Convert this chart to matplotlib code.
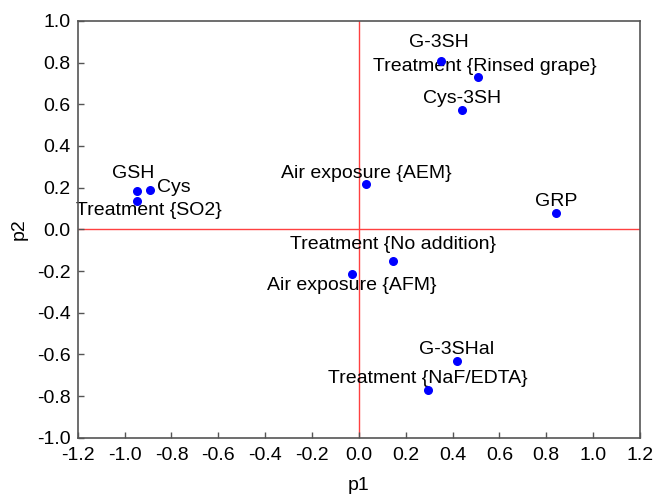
import matplotlib.pyplot as plt

plt.rcParams['font.family'] = ['Liberation Sans', 'DejaVu Sans']

labels = ["G-3SH", "Treatment {Rinsed grape}", "Cys-3SH", "GSH", "Cys",
          "Treatment {SO2}", "Air exposure {AEM}", "GRP", "Treatment {No addition}",
          "Air exposure {AFM}", "G-3SHal", "Treatment {NaF/EDTA}"]
p1 = [0.351, 0.509, 0.441, -0.948, -0.891, -0.948, 0.031, 0.841, 0.146, -0.029, 0.417, 0.294]
p2 = [0.810, 0.733, 0.573, 0.186, 0.191, 0.137, 0.217, 0.078, -0.151, -0.215, -0.631, -0.770]

# label offsets in pixels (dx, dy up), alignment
offs = [(-2, 18, 'center'), (7, 10, 'center'), (0, 11, 'center'), (-4, 17, 'center'),
        (7, 2, 'left'), (12, -10, 'center'), (0, 11, 'center'), (0, 12, 'center'),
        (0, 16, 'center'), (0, -11, 'center'), (0, 11, 'center'), (0, 11, 'center')]

fig = plt.figure(figsize=(6.56, 4.95), dpi=100)
ax = fig.add_axes([0.1185, 0.1158, 0.8571, 0.8418])

ax.axhline(0, color='#ff4040', lw=1.0, zorder=1)
ax.axvline(0, color='#ff4040', lw=1.0, zorder=1)
ax.scatter(p1, p2, s=30, color='blue', zorder=3)

for lab, x, y, (dx, dy, ha) in zip(labels, p1, p2, offs):
    ax.annotate(lab, (x, y), xytext=(dx * 0.72, dy * 0.72), textcoords='offset points',
                ha=ha, va='center', fontsize=14, zorder=2)

ax.set_xlim(-1.2, 1.2)
ax.set_ylim(-1.0, 1.0)
ax.set_xticks([round(-1.2 + 0.2 * i, 1) for i in range(13)])
ax.set_yticks([round(-1.0 + 0.2 * i, 1) for i in range(11)])
ax.xaxis.set_major_formatter(plt.FuncFormatter(lambda v, p: "%.1f" % v))
ax.yaxis.set_major_formatter(plt.FuncFormatter(lambda v, p: "%.1f" % v))
ax.tick_params(direction='in', length=4, width=1, colors='#555555', labelcolor='black',
               labelsize=14, top=False, right=False)
ax.tick_params(axis='x', pad=7)
ax.tick_params(axis='y', pad=5)
for sp in ax.spines.values():
    sp.set_color('#555555')
    sp.set_linewidth(1.2)

ax.set_xlabel("p1", fontsize=14, labelpad=9)
ax.set_ylabel("p2", fontsize=14, labelpad=7)

fig.savefig("out.png", dpi=100)
